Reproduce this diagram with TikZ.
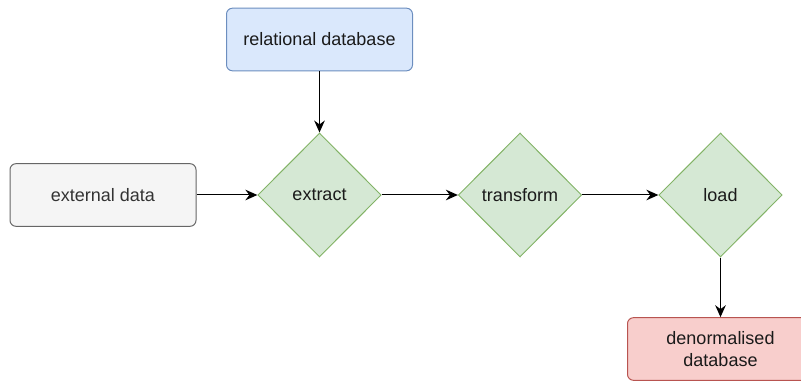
\documentclass[tikz,border=0pt]{standalone}
\usepackage{fontspec}
\setmainfont{Liberation Sans}
\usetikzlibrary{shapes.geometric,arrows.meta}
\definecolor{blueF}{HTML}{DAE8FC}\definecolor{blueD}{HTML}{6C8EBF}
\definecolor{grayF}{HTML}{F5F5F5}\definecolor{grayD}{HTML}{666666}
\definecolor{greenF}{HTML}{D5E8D4}\definecolor{greenD}{HTML}{82B366}
\definecolor{redF}{HTML}{F8CECC}\definecolor{redD}{HTML}{B85450}
\definecolor{txt}{HTML}{1A1A1A}\definecolor{txtgray}{HTML}{333333}
\tikzset{
  rbox/.style={draw, rounded corners=4.5pt, minimum width=139.5pt, minimum height=47pt, inner sep=0pt, align=center, font=\fontsize{13.5}{16}\selectfont, text=txt, line width=0.75pt},
  dia/.style={draw=greenD, fill=greenF, diamond, minimum width=92.5pt, minimum height=93pt, inner sep=0pt, font=\fontsize{13.5}{16}\selectfont, text=txt, line width=0.75pt},
  arr/.style={-{Stealth[length=9pt,width=8pt,inset=3pt]}, line width=0.75pt}
}
\begin{document}
\begin{tikzpicture}[x=0.75pt,y=-0.75pt]
\useasboundingbox (0,0) rectangle (801,381);
\node[rbox, fill=blueF, draw=blueD] (rel) at (319.5,39.5) {relational database};
\node[rbox, fill=grayF, draw=grayD, text=txtgray] (ext) at (103,195) {external data};
\node[dia] (extract) at (319.5,195) {extract};
\node[dia] (transform) at (520,195) {transform};
\node[dia] (load) at (720.5,195) {load};
\node[rbox, fill=redF, draw=redD] (den) at (720.5,349) {denormalised\\database};
\draw[arr] (rel) -- (extract);
\draw[arr] (ext) -- (extract);
\draw[arr] (extract) -- (transform);
\draw[arr] (transform) -- (load);
\draw[arr] (load) -- (den);
\end{tikzpicture}
\end{document}
